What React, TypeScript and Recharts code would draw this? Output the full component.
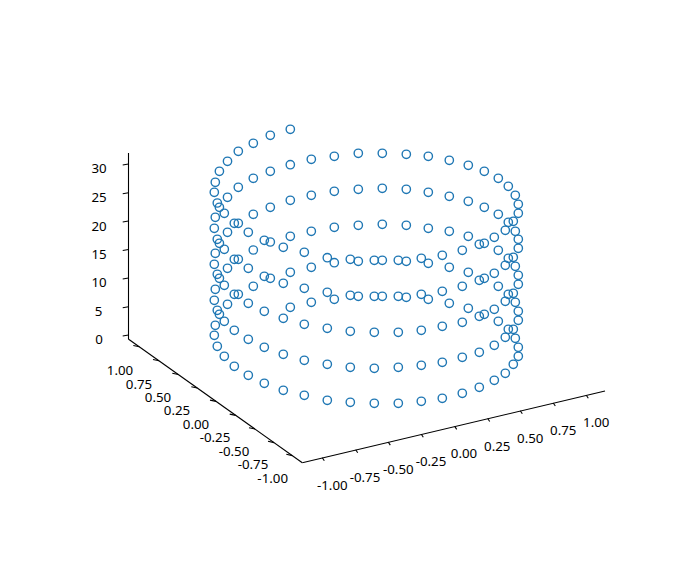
import { ScatterChart, Scatter, XAxis, YAxis, ReferenceLine } from "recharts";

// Each turn has 40 points, and they all fall on nearly the same horizontal positions.
const ringX = [
    290.3, 270.3, 253.3, 238.3, 227.5, 219.4, 215.3, 214.3, 217.3, 224.3,
    234.3, 248.3, 264.3, 283.3, 304.3, 327.3, 350.3, 374.3, 398.3, 421.3,
    442.3, 462.3, 479.3, 494.3, 505.3, 513.3, 518.3, 518.3, 515.3, 508.3,
    498.3, 484.3, 468.3, 449.3, 428.3, 406.3, 382.3, 358.3, 334.3, 311.3,
];
const turn1Y = [
    129.3, 135.3, 143.3, 151.3, 161.3, 171.3, 182.3, 192.3, 203, 213.3,
    223.3, 232.3, 240.3, 247.3, 252.3, 257.7, 259.3, 260.3, 260.3, 258.3,
    255.3, 250.3, 244.3, 237.3, 230.3, 221.3, 213.3, 204.3, 195.3, 186.3,
    178.3, 171.3, 165.3, 160.3, 156.3, 154.3, 153.3, 153.3, 156.3, 159.3,
];
const turn2Y = [
    164.7, 171.3, 178.3, 187.3, 197.3, 207.3, 217.3, 228.3, 239.3, 249.3,
    259.3, 268.3, 276.3, 283.3, 288.3, 292.3, 295.3, 296.3, 296.3, 294.3,
    291.3, 286.3, 280.3, 273.3, 265.3, 257.3, 248.3, 239.3, 231.3, 222.3,
    214.3, 207.3, 201.3, 196.3, 192.3, 189.3, 188.3, 189.3, 191.3, 195.3,
];
const turn3Y = [
    200.3, 207.3, 214.3, 223.3, 232.3, 243.3, 253.3, 264.3, 274.3, 285.3,
    294.3, 303.3, 311.3, 318.3, 324.3, 328.3, 331.3, 332.3, 332.3, 330.3,
    326.3, 322.3, 316.3, 309.3, 301.3, 293.3, 284.3, 275.3, 266.3, 258.3,
    250.3, 243.3, 236.3, 231.3, 228.3, 225.3, 224.3, 225.3, 227.3, 231.3,
];
const turn4Y = [
    236.3, 242, 250, 259.3, 268.3, 278.3, 289.3, 300.3, 310.3, 321.3,
    330.3, 339.3, 347.3, 354.3, 360.3, 364.3, 367.3, 368.3, 367.3, 365.3,
    362.3, 357.3, 352.3, 345.3, 337.3, 329.3, 320.3, 311.3, 302.3, 294.3,
    286.3, 278.3, 272.3, 267.3, 263.3, 261.3, 260.3, 261.3, 262.7, 267.3,
];
const turn5Y = [
    272.3, 278.3, 286.3, 294.3, 304.3, 314.3, 325.3, 335.3, 346.3, 356.3,
    366.3, 375.3, 383.3, 390.3, 395.3, 400.3, 402.3, 403.3, 403.3, 401.3,
    398.3, 393.3, 387.3, 380.3, 373.3, 364.3, 356.3, 347.3, 338.3, 329.3,
    321.3, 314.3, 308.3, 303.3, 299.3, 297.3, 296.3, 296.3, 299.3, 302.3,
];
const lastPoint = { x: 290.3, y: 307.3 };

const zLabels = ["30", "25", "20", "15", "10", "5", "0"];
const zTickY = [164, 192.7, 221, 249.5, 278, 306.7, 335];
const zLabelX = [99, 99, 99, 99, 99, 98.5, 99];
const zLabelY = [167.7, 197, 225.7, 254, 282, 310.7, 339];

const depthLabels = ["1.00", "0.75", "0.50", "0.25", "0.00", "-0.25", "-0.50", "-0.75", "-1.00"];
const depthTickX = [139.3, 159, 178.3, 197.3, 216, 235.7, 255, 274, 292.3];
const depthTickY = [346.8, 360.8, 374.5, 388, 401.4, 415.4, 429, 442.6, 455.6];
const depthLabelX = [120, 139, 158, 177, 196, 215, 234, 253, 272.7];
const depthLabelY = [370, 383.5, 397, 410.4, 423.9, 437.3, 450.8, 464.2, 477.7];

const widthLabels = ["-1.00", "-0.75", "-0.50", "-0.25", "0.00", "0.25", "0.50", "0.75", "1.00"];
const widthTickX = [323.3, 356.7, 389.3, 422.3, 455.7, 488.7, 521.3, 554.3, 587.3];
const widthTickY = [457.7, 449.8, 442.1, 434.3, 426.4, 418.5, 410.8, 403, 395.2];
const widthLabelX = [332.3, 365, 398.3, 431, 464, 497.3, 530.3, 563.3, 596.3];
const widthLabelY = [484.7, 476.7, 468.7, 461, 453.3, 446, 438, 430, 422];

const axisLines = [
    [{ x: 128.5, y: 153 }, { x: 128.5, y: 339 }],
    [{ x: 128.3, y: 339 }, { x: 302.3, y: 462.7 }],
    [{ x: 302.3, y: 462.7 }, { x: 605, y: 391 }],
];

const helixData = [
    ...[turn1Y, turn2Y, turn3Y, turn4Y, turn5Y].flatMap((turn) =>
        turn.map((y, i) => ({ x: ringX[i], y })),
    ),
    lastPoint,
];

const labelData = [
    ...zLabels.map((label, i) => ({ label, x: zLabelX[i], y: zLabelY[i] })),
    ...depthLabels.map((label, i) => ({ label, x: depthLabelX[i], y: depthLabelY[i] })),
    ...widthLabels.map((label, i) => ({ label, x: widthLabelX[i], y: widthLabelY[i] })),
];

const tickSegments = [
    ...zTickY.map((y) => [{ x: 128.5, y }, { x: 122.7, y: y + 1 }]),
    ...depthTickX.map((x, i) => [
        { x, y: depthTickY[i] },
        { x: x - 6, y: depthTickY[i] - 1.3 },
    ]),
    ...widthTickX.map((x, i) => [
        { x: x - 1, y: widthTickY[i] },
        { x: x + 1, y: widthTickY[i] + 3 },
    ]),
];

function HollowDot(props: any) {
    return (
        <circle
            cx={props.cx}
            cy={props.cy}
            r={4.17}
            fill="none"
            stroke="#1f77b4"
            strokeWidth={1.39}
        />
    );
}

function TickText(props: any) {
    return (
        <text
            x={props.cx}
            y={props.cy}
            textAnchor="middle"
            dominantBaseline="central"
            fontFamily="'Noto Sans', sans-serif"
            fontSize={13.3}
            fill="#000000"
        >
            {props.payload.label}
        </text>
    );
}

export default function App() {
    return (
        <div style={{ position: "absolute", left: 0, top: 0, width: 700, height: 563 }}>
            <ScatterChart
                width={700}
                height={563}
                margin={{ top: 0, right: 0, bottom: 0, left: 0 }}
            >
                <XAxis type="number" dataKey="x" domain={[0, 700]} hide />
                <YAxis type="number" dataKey="y" domain={[0, 563]} reversed hide />

                {axisLines.map((segment, i) => (
                    <ReferenceLine key={i} segment={segment} stroke="#000000" strokeWidth={1.1} />
                ))}
                {tickSegments.map((segment, i) => (
                    <ReferenceLine key={i} segment={segment} stroke="#000000" strokeWidth={1.1} />
                ))}

                <Scatter data={helixData} shape={HollowDot} isAnimationActive={false} />
                <Scatter data={labelData} shape={TickText} isAnimationActive={false} />
            </ScatterChart>
        </div>
    );
}
